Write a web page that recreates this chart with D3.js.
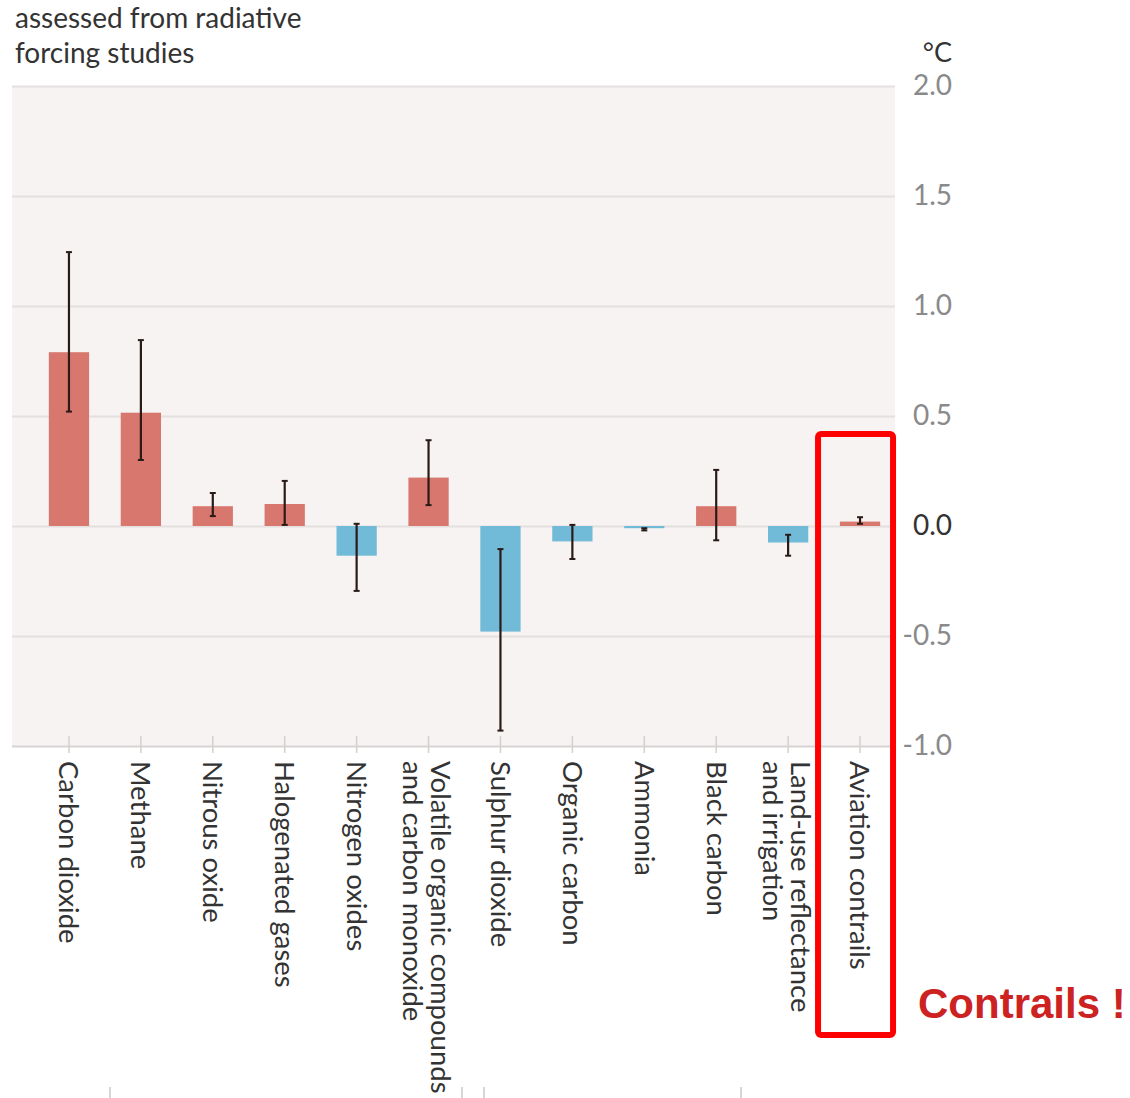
<!DOCTYPE html>
<html>
<head>
<meta charset="utf-8">
<script src="https://cdn.jsdelivr.net/npm/d3@7/dist/d3.min.js"></script>
<style>
  html, body { margin: 0; padding: 0; background: #ffffff; }
  svg { display: block; }
</style>
</head>
<body>
<svg id="chart" width="1130" height="1098"></svg>
<script>
// Warming contribution by emitted component (°C), central estimate and likely range
const categories = [
  "Carbon dioxide", "Methane", "Nitrous oxide", "Halogenated gases",
  "Nitrogen oxides", "Volatile organic compounds|and carbon monoxide",
  "Sulphur dioxide", "Organic carbon", "Ammonia", "Black carbon",
  "Land-use reflectance|and irrigation", "Aviation contrails"
];
const values = [0.79, 0.515, 0.09, 0.10, -0.135, 0.22, -0.48, -0.07, -0.01, 0.09, -0.075, 0.02];
const lowValues = [0.52, 0.30, 0.045, 0.005, -0.295, 0.095, -0.93, -0.15, -0.02, -0.065, -0.135, 0.01];
const highValues = [1.245, 0.845, 0.15, 0.205, 0.01, 0.39, -0.105, 0.005, -0.01, 0.255, -0.04, 0.04];
const yTicks = [-1.0, -0.5, 0.0, 0.5, 1.0, 1.5, 2.0];
const titleLines = ["assessed from radiative", "forcing studies"];
const highlighted = "Aviation contrails";

const svg = d3.select("#chart");
const font = "Lato, 'Open Sans', sans-serif";

const plot = { left: 12, right: 895, top: 86, bottom: 746 };

const x = d3.scaleBand()
  .domain(categories)
  .range([33, 896])
  .paddingInner(0.44)
  .paddingOuter(0.22);

const y = d3.scaleLinear()
  .domain([-1, 2])
  .range([plot.bottom, plot.top]);

// Title
svg.append("g").selectAll("text")
  .data(titleLines)
  .join("text")
  .attr("x", 15)
  .attr("y", (d, i) => 28 + i * 35)
  .attr("font-family", font)
  .attr("font-size", 28)
  .attr("fill", "#333")
  .text(d => d);

// Plot background
svg.append("rect")
  .attr("x", plot.left)
  .attr("y", plot.top)
  .attr("width", plot.right - plot.left)
  .attr("height", plot.bottom - plot.top)
  .attr("fill", "#f6f3f2");

// Gridlines and right-hand value axis
const yAxis = d3.axisRight(y)
  .tickValues(yTicks)
  .tickSize(plot.right - plot.left)
  .tickFormat(d3.format(".1f"));

const yg = svg.append("g")
  .attr("transform", `translate(${plot.left},0)`)
  .call(yAxis);
yg.select(".domain").remove();
yg.selectAll(".tick line")
  .attr("stroke", d => d === -1 ? "#d8d4d3" : "#e4e0df")
  .attr("stroke-width", 2);
yg.selectAll(".tick text")
  .attr("x", 940)
  .attr("text-anchor", "end")
  .attr("font-family", font)
  .attr("font-size", 28)
  .attr("fill", d => d === 0 ? "#333" : "#8a8a8a")
  .text(d => d3.format(".1f")(d).replace("−", "-"));

svg.append("text")
  .attr("x", 952)
  .attr("y", 62)
  .attr("text-anchor", "end")
  .attr("font-family", font)
  .attr("font-size", 27)
  .attr("fill", "#333")
  .text("°C");

// Bars
svg.append("g").selectAll("rect")
  .data(categories)
  .join("rect")
  .attr("x", d => x(d))
  .attr("width", x.bandwidth())
  .attr("y", (d, i) => y(Math.max(0, values[i])))
  .attr("height", (d, i) => Math.abs(y(values[i]) - y(0)))
  .attr("fill", (d, i) => values[i] >= 0 ? "#d8776d" : "#72bbd8");

// Error bars
const eb = svg.append("g").selectAll("g")
  .data(categories)
  .join("g")
  .attr("transform", d => `translate(${x(d) + x.bandwidth() / 2},0)`);
eb.append("line")
  .attr("y1", (d, i) => y(lowValues[i]))
  .attr("y2", (d, i) => y(highValues[i]))
  .attr("stroke", "#2a1a18")
  .attr("stroke-width", 2.2);
eb.selectAll("line.cap")
  .data((d, i) => [lowValues[i], highValues[i]])
  .join("line")
  .attr("class", "cap")
  .attr("x1", -3).attr("x2", 3)
  .attr("y1", v => y(v)).attr("y2", v => y(v))
  .attr("stroke", "#2a1a18")
  .attr("stroke-width", 2);

// Category axis
const xAxis = d3.axisBottom(x).tickSize(0).tickFormat("");
const xg = svg.append("g")
  .attr("transform", `translate(0,${plot.bottom})`)
  .call(xAxis);
xg.select(".domain").remove();
xg.selectAll(".tick").append("line")
  .attr("y1", -10).attr("y2", 7)
  .attr("stroke", "#d4d0cf")
  .attr("stroke-width", 1.5);

const labels = svg.append("g").selectAll("text")
  .data(categories)
  .join("text")
  .attr("transform", d => `translate(${x(d) + x.bandwidth() / 2},${plot.bottom + 15}) rotate(90)`)
  .attr("font-family", font)
  .attr("font-size", 27.5)
  .attr("fill", "#333");
labels.each(function(d) {
  const lines = d.split("|");
  const t = d3.select(this);
  lines.forEach((ln, j) => {
    t.append("tspan")
      .attr("x", 0)
      .attr("dy", j === 0 ? (0.35 - (lines.length - 1) * 0.45) + "em" : "1.02em")
      .text(ln);
  });
});

// Faint ticks of the panel below
const lowerTicks = [110, 462, 484, 741];
svg.append("g").selectAll("line")
  .data(lowerTicks)
  .join("line")
  .attr("x1", d => d).attr("x2", d => d)
  .attr("y1", 1087).attr("y2", 1098)
  .attr("stroke", "#c8c8c8")
  .attr("stroke-width", 1.5);

// Highlight box around the contrails column
const hx = x(highlighted) + x.bandwidth() / 2;
svg.append("rect")
  .attr("x", hx - 42)
  .attr("y", 434)
  .attr("width", 75)
  .attr("height", 601)
  .attr("rx", 3)
  .attr("fill", "none")
  .attr("stroke", "#ff0000")
  .attr("stroke-width", 6);

svg.append("text")
  .attr("x", 918)
  .attr("y", 1018)
  .attr("font-family", "'Liberation Sans', Arial, sans-serif")
  .attr("font-weight", "bold")
  .attr("font-size", 42)
  .attr("fill", "#cc2222")
  .text("Contrails !");
</script>
</body>
</html>
